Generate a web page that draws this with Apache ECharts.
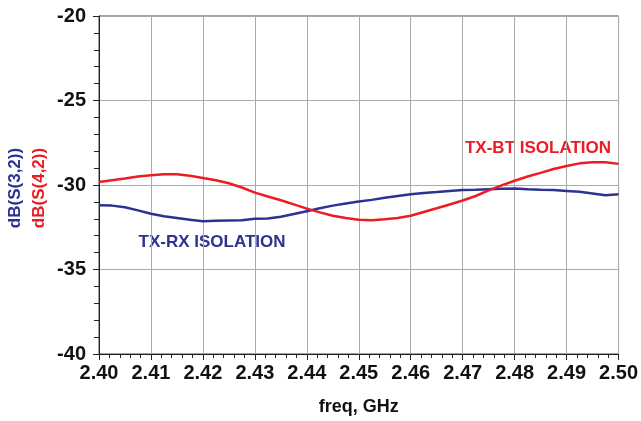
<!DOCTYPE html>
<html>
<head>
<meta charset="utf-8">
<script src="https://cdn.jsdelivr.net/npm/echarts@6/dist/echarts.min.js"></script>
<style>
  html, body { margin: 0; padding: 0; background: #fff; }
  #chart { width: 641px; height: 421px; }
</style>
</head>
<body>
<div id="chart"></div>
<script>
// frequency points, GHz
const freq = [
  2.4000, 2.4025, 2.4050, 2.4075, 2.4100, 2.4125, 2.4150, 2.4175, 2.4200, 2.4225,
  2.4250, 2.4275, 2.4300, 2.4325, 2.4350, 2.4375, 2.4400, 2.4425, 2.4450, 2.4475,
  2.4500, 2.4525, 2.4550, 2.4575, 2.4600, 2.4625, 2.4650, 2.4675, 2.4700, 2.4725,
  2.4750, 2.4775, 2.4800, 2.4825, 2.4850, 2.4875, 2.4900, 2.4925, 2.4950, 2.4975,
  2.5000
];
// dB(S(4,2)) : TX-BT isolation
const s42 = [
  -29.82, -29.72, -29.62, -29.50, -29.42, -29.36, -29.36, -29.45, -29.58, -29.72,
  -29.90, -30.15, -30.45, -30.68, -30.90, -31.15, -31.40, -31.62, -31.82, -31.95,
  -32.05, -32.08, -32.02, -31.95, -31.82, -31.60, -31.38, -31.15, -30.92, -30.65,
  -30.32, -30.02, -29.75, -29.50, -29.28, -29.05, -28.88, -28.72, -28.66, -28.65,
  -28.75
];
// dB(S(3,2)) : TX-RX isolation
const s32 = [
  -31.20, -31.22, -31.32, -31.50, -31.70, -31.85, -31.95, -32.05, -32.15, -32.12,
  -32.10, -32.08, -32.00, -31.98, -31.88, -31.72, -31.55, -31.38, -31.22, -31.10,
  -30.98, -30.88, -30.75, -30.65, -30.55, -30.48, -30.42, -30.35, -30.30, -30.28,
  -30.25, -30.22, -30.20, -30.25, -30.28, -30.30, -30.35, -30.40, -30.50, -30.60,
  -30.55
];

const RED = "#ed1c24";
const BLUE = "#2e3192";
const FONT = "'Liberation Sans', Arial, sans-serif";
const label = { fontFamily: FONT, fontWeight: "bold", fontSize: 20, color: "#111" };

const chart = echarts.init(document.getElementById("chart"));
chart.setOption({
  animation: false,
  grid: {
    left: 99, right: 19, top: 16, bottom: 65,
    show: true, borderColor: "#444", borderWidth: 1
  },
  xAxis: {
    type: "value",
    min: 2.40, max: 2.50, interval: 0.01,
    name: "freq, GHz",
    nameLocation: "middle",
    nameGap: 44,
    nameTextStyle: Object.assign({}, label, { fontSize: 18 }),
    axisLine: { lineStyle: { color: "#222", width: 1 } },
    axisTick: { show: true, length: 6, lineStyle: { color: "#222" } },
    minorTick: { show: true, splitNumber: 5, length: 4, lineStyle: { color: "#222" } },
    splitLine: { show: true, lineStyle: { color: "#aaa", width: 1 } },
    axisLabel: Object.assign({ margin: 9, formatter: (v) => v.toFixed(2) }, label)
  },
  yAxis: {
    type: "value",
    min: -40, max: -20, interval: 5,
    axisLine: { show: true, lineStyle: { color: "#222", width: 1 } },
    axisTick: { show: true, length: 6, lineStyle: { color: "#222" } },
    minorTick: { show: true, splitNumber: 5, length: 5, lineStyle: { color: "#222" } },
    splitLine: { show: true, lineStyle: { color: "#aaa", width: 1 } },
    axisLabel: Object.assign({ margin: 13 }, label)
  },
  graphic: [
    {
      type: "text", x: 15, y: 188, rotation: Math.PI / 2,
      style: { text: "dB(S(3,2))", fill: BLUE, font: "bold 17px " + FONT, align: "center", verticalAlign: "middle" }
    },
    {
      type: "text", x: 39, y: 188, rotation: Math.PI / 2,
      style: { text: "dB(S(4,2))", fill: RED, font: "bold 17px " + FONT, align: "center", verticalAlign: "middle" }
    },
    {
      type: "text", x: 538, y: 148,
      style: { text: "TX-BT ISOLATION", fill: RED, font: "bold 17px " + FONT, align: "center", verticalAlign: "middle", backgroundColor: "#fff" }
    },
    {
      type: "text", x: 212, y: 242,
      style: { text: "TX-RX ISOLATION", fill: BLUE, font: "bold 17px " + FONT, align: "center", verticalAlign: "middle", backgroundColor: "#fff" }
    }
  ],
  series: [
    {
      name: "dB(S(3,2))", type: "line", showSymbol: false,
      data: freq.map((f, i) => [f, s32[i]]),
      lineStyle: { color: BLUE, width: 2.5 }, itemStyle: { color: BLUE }
    },
    {
      name: "dB(S(4,2))", type: "line", showSymbol: false,
      data: freq.map((f, i) => [f, s42[i]]),
      lineStyle: { color: RED, width: 2.5 }, itemStyle: { color: RED }
    }
  ]
});
</script>
</body>
</html>
